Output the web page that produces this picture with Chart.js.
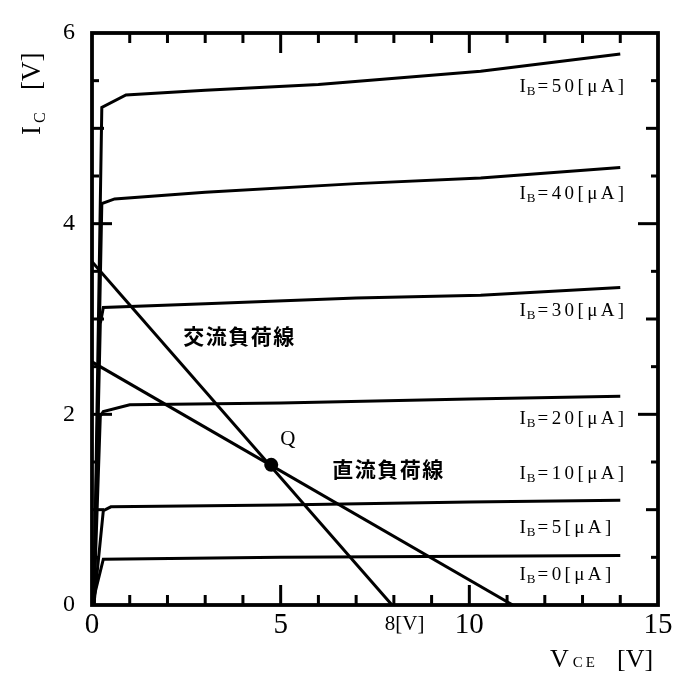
<!DOCTYPE html>
<html>
<head>
<meta charset="utf-8">
<script src="https://cdn.jsdelivr.net/npm/chart.js@4.4.1/dist/chart.umd.min.js"></script>
<style>
html,body{margin:0;padding:0;background:#fff;}
#wrap{width:682px;height:687px;position:relative;}
</style>
</head>
<body>
<div id="wrap"><canvas id="c"></canvas></div>
<script>
// ---- data (V_CE [V], I_C) ----
const ib50V = [0.05, 0.26, 0.9, 3, 6, 10.3, 14];
const ib50I = [0, 5.22, 5.35, 5.40, 5.46, 5.60, 5.78];
const ib40V = [0.05, 0.26, 0.6, 3, 7, 10.3, 14];
const ib40I = [0, 4.21, 4.26, 4.33, 4.42, 4.48, 4.59];
const ib30V = [0.05, 0.22, 0.3, 3, 7, 10.3, 14];
const ib30I = [0, 2.95, 3.12, 3.16, 3.22, 3.25, 3.33];
const ib20V = [0.05, 0.22, 0.3, 1.0, 5, 10, 14];
const ib20I = [0, 1.98, 2.03, 2.10, 2.12, 2.16, 2.19];
const ib5V  = [0.05, 0.3, 0.5, 5, 10, 14];
const ib5I  = [0, 0.99, 1.03, 1.05, 1.08, 1.10];
const ib0V  = [0, 0.3, 5, 14];
const ib0I  = [0, 0.48, 0.50, 0.52];
const acLoadV = [0, 7.95];
const acLoadI = [3.6, 0];
const dcLoadV = [0, 11.15];
const dcLoadI = [2.55, 0];
const qV = [4.75];
const qI = [1.47];

const xTickLabels = {0: '0', 5: '5', 10: '10', 15: '15'};
const yTickLabels = {0: '0', 2: '2', 4: '4', 6: '6'};
const ibLabelValues = ['50', '40', '30', '20', '10', '5', '0'];
const acLabel = '交流負荷線';
const dcLabel = '直流負荷線';
const qLabel = 'Q';
const xExtraLabel = '8[V]';

// ---- chart ----
const SERIF = "'Liberation Serif','Times New Roman',serif";
const CJK = "'Noto Sans CJK JP','Noto Sans CJK SC',sans-serif";
function pts(v, i) { return v.map((x, k) => ({x: x, y: i[k]})); }

const curveSets = [[ib50V, ib50I], [ib40V, ib40I], [ib30V, ib30I], [ib20V, ib20I], [ib5V, ib5I], [ib0V, ib0I], [acLoadV, acLoadI], [dcLoadV, dcLoadI]];
const datasets = curveSets.map(([v, i]) => ({
  data: pts(v, i), showLine: true, borderColor: '#000', borderWidth: 3,
  pointRadius: 0, tension: 0, fill: false
}));
datasets.push({data: pts(qV, qI), showLine: false, pointRadius: 7, pointHoverRadius: 7,
  backgroundColor: '#000', borderColor: '#000', borderWidth: 0});

// annotation anchors in data units
const ibLabelAnchorX = 11.33;
const ibLabelBaselines = [5.38, 4.26, 3.03, 1.90, 1.32, 0.755, 0.26];
const acLabelAt = {x: 3.89, y: 2.82};
const dcLabelAt = {x: 7.84, y: 1.43};
const qLabelAt = {x: 5.19, y: 1.74};

function drawSpaced(ctx, s, x, y, sp) {
  for (const ch of s) { ctx.fillText(ch, x, y); x += ctx.measureText(ch).width + sp; }
  return x;
}
function seg(ctx, x1, y1, x2, y2) { ctx.beginPath(); ctx.moveTo(x1, y1); ctx.lineTo(x2, y2); ctx.stroke(); }

const framePlugin = {
  id: 'frame',
  afterDatasetsDraw(chart) {
    const ctx = chart.ctx;
    const xs = chart.scales.x, ys = chart.scales.y;
    const {left, right, top, bottom} = chart.chartArea;
    ctx.save();
    ctx.strokeStyle = '#000';
    ctx.lineWidth = 3;
    xs.ticks.forEach(t => {
      const v = t.value;
      if (v <= xs.min || v >= xs.max) return;
      const len = xTickLabels[v] !== undefined ? 20 : 10;
      const px = xs.getPixelForValue(v);
      seg(ctx, px, bottom, px, bottom - len);
      seg(ctx, px, top, px, top + len);
    });
    ys.ticks.forEach(t => {
      const v = t.value;
      if (v <= ys.min || v >= ys.max) return;
      const len = yTickLabels[v] !== undefined ? 20 : (Number.isInteger(v) ? 12 : 7);
      const py = ys.getPixelForValue(v);
      seg(ctx, left, py, left + len, py);
      seg(ctx, right, py, right - len, py);
    });
    ctx.lineWidth = 3.8;
    ctx.strokeRect(left, top, right - left, bottom - top);

    // annotations
    ctx.fillStyle = '#000';
    ctx.textAlign = 'left';
    ctx.textBaseline = 'alphabetic';
    ibLabelValues.forEach((val, k) => {
      let x = xs.getPixelForValue(ibLabelAnchorX);
      const base = ys.getPixelForValue(ibLabelBaselines[k]);
      ctx.font = '19px ' + SERIF;
      ctx.fillText('I', x, base);
      x += ctx.measureText('I').width + 1;
      ctx.font = '13px ' + SERIF;
      ctx.fillText('B', x, base + 3);
      x += ctx.measureText('B').width + 2;
      ctx.font = '19px ' + SERIF;
      drawSpaced(ctx, '=' + val + '[μA]', x, base, 3.4);
    });

    ctx.font = 'bold 21px ' + CJK;
    ctx.textBaseline = 'middle';
    [[acLabel, acLabelAt], [dcLabel, dcLabelAt]].forEach(([s, at]) => {
      let w = 0; for (const ch of s) w += ctx.measureText(ch).width + 1.5; w -= 1.5;
      drawSpaced(ctx, s, xs.getPixelForValue(at.x) - w / 2, ys.getPixelForValue(at.y), 1.5);
    });
    ctx.font = '21px ' + SERIF;
    ctx.textAlign = 'center';
    ctx.fillText(qLabel, xs.getPixelForValue(qLabelAt.x), ys.getPixelForValue(qLabelAt.y));

    // 8[V] extra tick label
    ctx.textAlign = 'left';
    ctx.textBaseline = 'alphabetic';
    ctx.font = '21px ' + SERIF;
    ctx.fillText(xExtraLabel, xs.getPixelForValue(8) - 9, bottom + 25);

    // x title
    ctx.font = '26px ' + SERIF;
    let tx = right - 108, ty = bottom + 62;
    ctx.fillText('V', tx, ty);
    tx += ctx.measureText('V').width + 4;
    ctx.font = '15px ' + SERIF;
    tx = drawSpaced(ctx, 'CE', tx, ty, 3);
    ctx.font = '26px ' + SERIF;
    ctx.fillText('[V]', right - 41, ty);

    // y title (rotated)
    ctx.save();
    ctx.translate(left - 52, top + 102);
    ctx.rotate(-Math.PI / 2);
    ctx.font = '27px ' + SERIF;
    ctx.fillText('I', 0, 0);
    let lx = ctx.measureText('I').width + 3;
    ctx.font = '16px ' + SERIF;
    ctx.fillText('C', lx, 5);
    ctx.font = '27px ' + SERIF;
    ctx.fillText('[V]', 45, 0);
    ctx.restore();

    ctx.restore();
  }
};

new Chart(document.getElementById('c'), {
  type: 'scatter',
  data: {datasets: datasets},
  options: {
    responsive: true,
    maintainAspectRatio: false,
    animation: false,
    devicePixelRatio: 1,
    layout: {padding: {left: 0, top: 33, right: 24, bottom: 0}},
    plugins: {legend: {display: false}, tooltip: {enabled: false}},
    events: [],
    scales: {
      x: {
        type: 'linear', min: 0, max: 15,
        grid: {display: false, drawTicks: false, tickLength: 0},
        border: {display: false},
        ticks: {
          stepSize: 1, autoSkip: false, maxRotation: 0, padding: 3,
          color: '#000', font: {family: SERIF, size: 29},
          callback: (v) => xTickLabels[v] !== undefined ? xTickLabels[v] : ''
        },
        afterFit: (s) => { s.height = 82; }
      },
      y: {
        type: 'linear', min: 0, max: 6,
        grid: {display: false, drawTicks: false, tickLength: 0},
        border: {display: false},
        ticks: {
          stepSize: 0.5, autoSkip: false, padding: 17,
          color: '#000', font: {family: SERIF, size: 24},
          callback: (v) => yTickLabels[v] !== undefined ? yTickLabels[v] : ''
        },
        afterFit: (s) => { s.width = 92; }
      }
    }
  },
  plugins: [framePlugin]
});
</script>
</body>
</html>
